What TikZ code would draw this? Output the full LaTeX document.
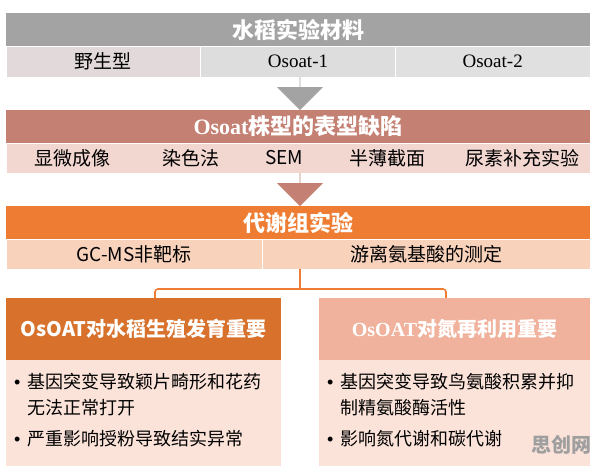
\documentclass[tikz,border=0pt]{standalone}
\usepackage{fontspec}
\setmainfont{Noto Sans CJK SC}
\newfontfamily\latinserif{Liberation Serif}
\newfontfamily\bulletfont{Liberation Sans}
\usetikzlibrary{shapes.arrows}

\definecolor{matgray}{HTML}{A3A3A3}
\definecolor{matcellA}{HTML}{E2DADA}
\definecolor{matcellB}{HTML}{DDDDDD}
\definecolor{matcellC}{HTML}{E0E0E0}
\definecolor{phenred}{HTML}{C48073}
\definecolor{phensub}{HTML}{F2D6D0}
\definecolor{metorange}{HTML}{EE7D33}
\definecolor{metsub}{HTML}{F9D2BC}
\definecolor{leftorange}{HTML}{D7712C}
\definecolor{rightsalmon}{HTML}{F0B29D}
\definecolor{bodypink}{HTML}{FBE3D9}

\tikzset{
  titlebar/.style={minimum width=584pt, minimum height=33pt, inner sep=0pt,
    text=white, font=\fontsize{22}{22}\selectfont\bfseries},
  subcell/.style={minimum height=31pt, inner sep=0pt, draw=white, line width=0.8pt,
    font=\fontsize{19}{19}\selectfont},
  subtext/.style={inner sep=0pt, font=\fontsize{19}{19}\selectfont},
  blockarrow/.style={single arrow, shape border rotate=270, minimum height=33pt,
    minimum width=46pt, single arrow head extend=10pt, single arrow tip angle=90,
    inner sep=0pt},
  headbox/.style={minimum height=62pt, inner sep=0pt,
    font=\fontsize{20}{20}\selectfont\bfseries},
  bodybox/.style={minimum height=106pt, inner sep=0pt, fill=bodypink},
  bullettext/.style={anchor=north west, inner sep=0pt, align=left,
    font=\fontsize{18}{26}\selectfont},
  fork/.style={draw=metorange, line width=1.6pt, rounded corners=3pt},
}

\newcommand{\blt}{\makebox[13pt][l]{\bulletfont\textbullet}}

\begin{document}
\begin{tikzpicture}[x=1pt, y=-1pt]
\useasboundingbox (0,0) rectangle (596,469);

% rice material
\node[titlebar, fill=matgray] (mat) at (298, 29.5) {水稻实验材料};
\node[subcell, fill=matcellA, minimum width=194.7pt] (wt) at (103.3, 61.5) {野生型};
\node[subcell, fill=matcellB, minimum width=194.7pt] (oa1) at (298, 61.5) {\latinserif Osoat-1};
\node[subcell, fill=matcellC, minimum width=194.7pt] (oa2) at (492.7, 61.5) {\latinserif Osoat-2};

\node[blockarrow, fill=matgray] (arr1) at (300, 93.5) {};

% phenotype
\node[titlebar, fill=phenred] (phen) at (298, 126.5) {{\latinserif Osoat}株型的表型缺陷};
\node[subcell, fill=phensub, minimum width=584pt, minimum height=30pt] (phsub) at (298, 158) {};
\node[subtext] (ph1) at (72, 158) {显微成像};
\node[subtext] (ph2) at (191, 158) {染色法};
\node[subtext] (ph3) at (284, 158) {SEM};
\node[subtext] (ph4) at (387, 158) {半薄截面};
\node[subtext] (ph5) at (522, 158) {尿素补充实验};

\node[blockarrow, fill=phenred] (arr2) at (300, 189.5) {};

% metabolome
\node[titlebar, fill=metorange] (met) at (298, 222.5) {代谢组实验};
\node[subcell, fill=metsub, minimum width=256pt, minimum height=30pt] (gcms) at (134, 254) {GC-MS非靶标};
\node[subcell, fill=metsub, minimum width=328pt, minimum height=30pt] (amino) at (426, 254) {游离氨基酸的测定};

% two conclusions
\node[headbox, fill=leftorange, text=white, minimum width=275pt] (repro) at (143.5, 329) {OsOAT对水稻生殖发育重要};
\node[bodybox, minimum width=275pt] (reprobody) at (143.5, 413) {};
\node[headbox, fill=rightsalmon, text=white, minimum width=271pt] (nitro) at (454.5, 329) {{\latinserif OsOAT}对氮再利用重要};
\node[bodybox, minimum width=271pt] (nitrobody) at (454.5, 413) {};

\coordinate (split) at (300, 289);
\draw[fork] (split |- amino.south) -- (split);
\draw[fork] ([xshift=11.5pt]repro.north) |- (split) -| ([xshift=-8.5pt]nitro.north);

\node[bullettext] (rb1) at (14, 373) {\blt 基因突变导致颖片畸形和花药\\\hspace*{13pt}无法正常打开};
\node[bullettext] (rb2) at (14, 430) {\blt 严重影响授粉导致结实异常};
\node[bullettext] (nb1) at (327, 373) {\blt 基因突变导致鸟氨酸积累并抑\\\hspace*{13pt}制精氨酸酶活性};
\node[bullettext] (nb2) at (327, 430) {\blt 影响氮代谢和碳代谢};

\node[inner sep=0pt, text=gray!75, font=\fontsize{20}{20}\selectfont\bfseries] (mark) at (561, 445) {思创网};

\end{tikzpicture}
\end{document}
